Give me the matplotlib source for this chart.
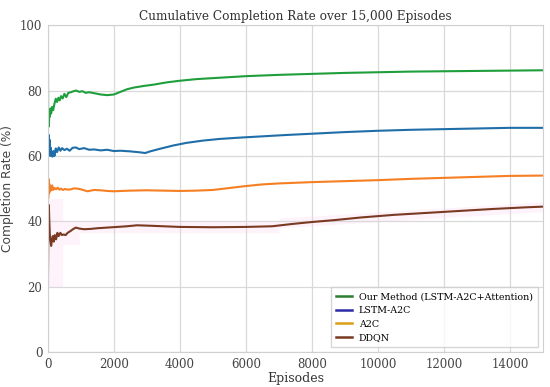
import matplotlib.pyplot as plt
import numpy as np

# episode checkpoints and cumulative completion rate (%)
ep_ours = [1, 10, 20, 30, 45, 60, 80, 100, 130, 160, 200, 240, 280, 320, 360, 400, 450, 500, 560, 620,
           700, 780, 860, 950, 1050, 1150, 1250, 1400, 1600, 1800, 2000, 2200, 2400, 2600, 2900, 3200,
           3600, 4000, 4500, 5000, 5500, 6000, 6500, 7000, 8000, 9000, 10000, 11000, 12000, 13000, 14000, 15000]
ours = [92, 70, 74, 69, 73, 72, 74.5, 73, 75, 74, 76, 77.5, 76.5, 77.8, 77, 78.3, 77.6, 79, 78, 79.3,
        79.5, 79.8, 80, 79.6, 79.8, 79.3, 79.5, 79.2, 78.8, 78.6, 78.8, 79.6, 80.4, 80.9, 81.4, 81.8,
        82.5, 83, 83.5, 83.8, 84.1, 84.4, 84.6, 84.8, 85.1, 85.4, 85.6, 85.8, 85.9, 86, 86.1, 86.2]

ep_lstm = [1, 10, 20, 35, 50, 70, 90, 110, 140, 170, 200, 240, 280, 330, 380, 430, 500, 580, 660, 750,
           850, 950, 1100, 1250, 1400, 1600, 1800, 2000, 2200, 2500, 2800, 2950, 3100, 3400, 3800, 4200,
           4700, 5200, 5800, 6500, 7200, 8000, 9000, 10000, 11000, 12000, 13000, 14000, 15000]
lstm = [68, 64, 66.5, 62, 65, 60, 62.5, 60.5, 59.8, 61.5, 60, 62.3, 61.2, 62.6, 61.6, 62.4, 61.8, 62.2, 61.6, 62.5,
        62.6, 62.1, 62.4, 61.9, 62, 61.7, 61.9, 61.5, 61.6, 61.4, 61.1, 60.9, 61.4, 62.2, 63.2, 64,
        64.7, 65.2, 65.6, 66, 66.4, 66.8, 67.3, 67.7, 68, 68.2, 68.4, 68.6, 68.6]

ep_a2c = [1, 10, 20, 30, 45, 60, 80, 100, 130, 160, 200, 250, 300, 350, 400, 460, 520, 600, 700,
          800, 900, 1000, 1200, 1400, 1600, 1800, 2000, 2500, 3000, 3500, 4000, 4500, 5000, 5500, 6000,
          6500, 7000, 8000, 9000, 10000, 11000, 12000, 13000, 14000, 15000]
a2c = [55, 47, 53, 48.5, 51.5, 49, 50.5, 49.5, 51, 49.6, 50.2, 49.8, 50.3, 49.7, 50, 49.6, 49.9, 49.7, 49.8,
       50.1, 50, 49.8, 49.2, 49.6, 49.5, 49.3, 49.2, 49.4, 49.5, 49.4, 49.3, 49.4, 49.6, 50.2, 50.8,
       51.3, 51.6, 52, 52.3, 52.6, 53, 53.3, 53.6, 53.9, 54]

ep_ddqn = [1, 15, 30, 45, 60, 80, 100, 120, 150, 180, 210, 250, 290, 330, 380, 430, 480, 540, 600, 680,
           760, 850, 950, 1100, 1300, 1500, 1800, 2100, 2400, 2700, 3000, 3500, 4000, 5000, 6000, 6800,
           7400, 8000, 8700, 9500, 10500, 11500, 12500, 13500, 14500, 15000]
ddqn = [20, 38, 45, 40, 36, 34, 32.5, 34, 35.5, 33.8, 35.8, 34.5, 36.5, 35.5, 36.5, 35.8, 36, 35.8, 36.5, 37,
        37.6, 38.1, 37.8, 37.6, 37.7, 37.9, 38.1, 38.3, 38.5, 38.8, 38.7, 38.5, 38.3, 38.2, 38.3, 38.5,
        39.2, 39.8, 40.4, 41.2, 42, 42.6, 43.2, 43.8, 44.3, 44.5]

# faint spread band around DDQN (lower / upper edges)
band_ep = [0, 450, 450, 950, 950, 7000, 7000, 15000]
band_lo = [20, 20, 33, 33, 36.5, 36.5, 38, 43]
band_hi = [47, 47, 40, 40, 40, 40, 41, 46]

plt.rcParams['font.family'] = ['DejaVu Serif Condensed', 'DejaVu Serif']
fig = plt.figure(figsize=(5.5, 3.87), dpi=100)
ax = fig.add_axes([0.087, 0.090, 0.900, 0.845])

ax.fill_between(band_ep, band_lo, band_hi, color='#ff66cc', alpha=0.08, linewidth=0)

ax.plot(ep_ours, ours, color='#1f9e3c', lw=1.5)
ax.plot(ep_lstm, lstm, color='#1f6ea8', lw=1.5)
ax.plot(ep_a2c, a2c, color='#f57f22', lw=1.5)
ax.plot(ep_ddqn, ddqn, color='#7a3a22', lw=1.5)

# legend handles use slightly different colours than the curves
ax.plot([], [], color='#2e7d32', lw=1.8, label='Our Method (LSTM-A2C+Attention)')
ax.plot([], [], color='#2a2aa8', lw=1.8, label='LSTM-A2C')
ax.plot([], [], color='#d9a015', lw=1.8, label='A2C')
ax.plot([], [], color='#7a3a22', lw=1.8, label='DDQN')

ax.set_xlim(0, 15000)
ax.set_ylim(0, 100)
ax.set_xticks(np.arange(0, 15000, 2000))
ax.set_yticks(np.arange(0, 101, 20))
ax.tick_params(labelsize=8.5, colors='#444444', length=0, pad=4)
ax.grid(True, color='#d9d9d9', lw=0.9)
for s in ax.spines.values():
    s.set_color('#d0d0d0')

ax.set_title('Cumulative Completion Rate over 15,000 Episodes', fontsize=8.7, color='#333333', pad=4)
ax.set_xlabel('Episodes', fontsize=9, color='#333333', labelpad=1)
ax.set_ylabel('Completion Rate (%)', fontsize=8.8, color='#444444', family='DejaVu Sans')
ax.legend(loc='lower right', fontsize=6.8, frameon=True, edgecolor='#cccccc', fancybox=False,
          handlelength=1.7, handletextpad=0.7, borderpad=0.55, labelspacing=0.5)

fig.savefig('out.png', dpi=100)
